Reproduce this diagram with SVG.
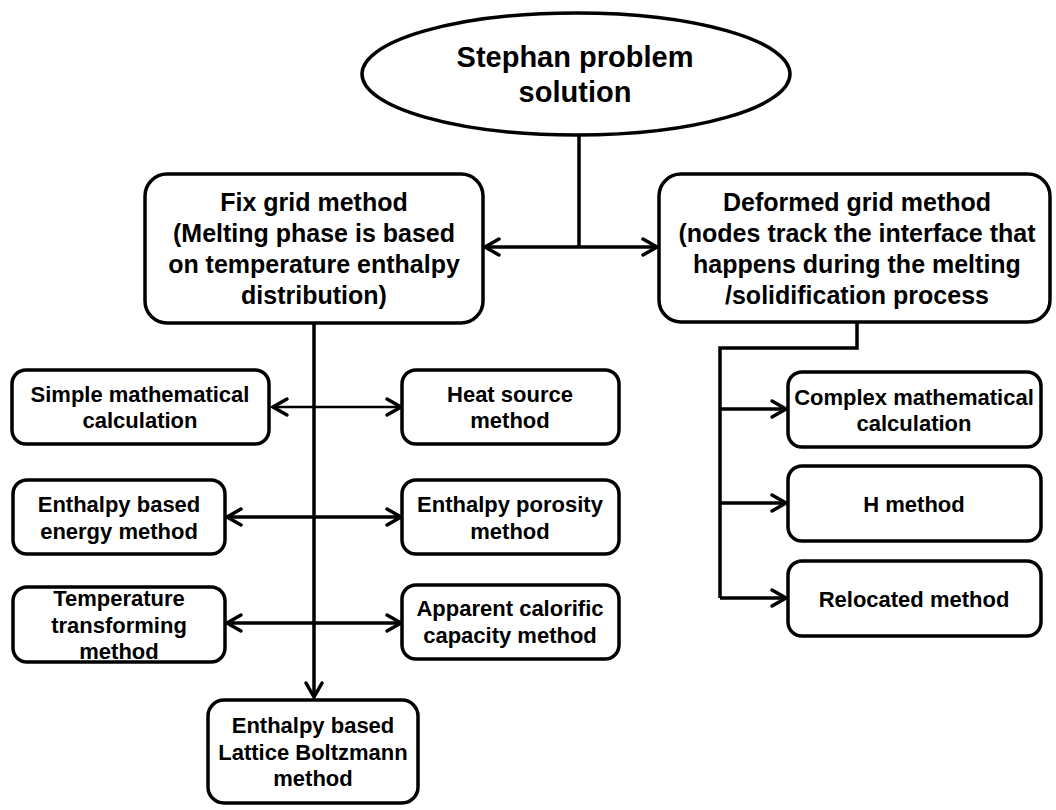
<svg xmlns="http://www.w3.org/2000/svg" width="1056" height="810" viewBox="0 0 1056 810">
<style>
.box{fill:#fff;stroke:#000;stroke-width:3.5}
.t{font-family:"Liberation Sans",Arial,sans-serif;font-weight:bold;fill:#000;text-anchor:middle}
.big{font-size:29px}
.mid{font-size:25px}
.sm{font-size:22px}
.c{fill:none;stroke:#000;stroke-width:3.5}
.c2{fill:none;stroke:#000;stroke-width:2.5}
</style>
<defs>
<marker id="ah" markerUnits="userSpaceOnUse" markerWidth="24" markerHeight="24" refX="16" refY="10" orient="auto-start-reverse" overflow="visible">
<path d="M2,2 L16,10 L2,18" fill="none" stroke="#000" stroke-width="3.5" stroke-linecap="round"/>
</marker>
</defs>
<rect width="1056" height="810" fill="#fff"/>
<g id="connectors">
<path class="c" d="M579,135 V247"/>
<path class="c" d="M485,247 H657" marker-start="url(#ah)" marker-end="url(#ah)"/>
<path class="c" d="M314,323 V697" marker-end="url(#ah)"/>
<path class="c2" d="M273,407 H401" marker-start="url(#ah)" marker-end="url(#ah)"/>
<path class="c" d="M227,517 H401" marker-start="url(#ah)" marker-end="url(#ah)"/>
<path class="c" d="M227,623 H401" marker-start="url(#ah)" marker-end="url(#ah)"/>
<path class="c" d="M857,322 V348 H720 V598"/>
<path class="c" d="M720,409 H786" marker-end="url(#ah)"/>
<path class="c" d="M720,503 H786" marker-end="url(#ah)"/>
<path class="c" d="M720,598 H786" marker-end="url(#ah)"/>
</g>
<g id="root">
<ellipse class="box" cx="576" cy="74" rx="214" ry="61"/>
<text class="t big" x="575" y="67">Stephan problem</text>
<text class="t big" x="575" y="102">solution</text>
</g>
<g id="fix">
<rect class="box" x="145" y="174" width="338" height="149" rx="22"/>
<text class="t mid" x="314" y="211">Fix grid method</text>
<text class="t mid" x="314" y="242">(Melting phase is based</text>
<text class="t mid" x="314" y="273">on temperature enthalpy</text>
<text class="t mid" x="314" y="304">distribution)</text>
</g>
<g id="deformed">
<rect class="box" x="659" y="174" width="391" height="148" rx="22"/>
<text class="t mid" x="857" y="211">Deformed grid method</text>
<text class="t mid" x="857" y="242">(nodes track the interface that</text>
<text class="t mid" x="857" y="273">happens during the melting</text>
<text class="t mid" x="857" y="304">/solidification process</text>
</g>
<g id="simple">
<rect class="box" x="12" y="370" width="257" height="74" rx="14"/>
<text class="t sm" x="140" y="402">Simple mathematical</text>
<text class="t sm" x="140" y="428">calculation</text>
</g>
<g id="heat">
<rect class="box" x="402" y="370" width="217" height="74" rx="14"/>
<text class="t sm" x="510" y="402">Heat source</text>
<text class="t sm" x="510" y="428">method</text>
</g>
<g id="energy">
<rect class="box" x="13" y="480" width="212" height="74" rx="14"/>
<text class="t sm" x="119" y="512">Enthalpy based</text>
<text class="t sm" x="119" y="539">energy method</text>
</g>
<g id="porosity">
<rect class="box" x="402" y="480" width="217" height="74" rx="14"/>
<text class="t sm" x="510" y="512">Enthalpy porosity</text>
<text class="t sm" x="510" y="539">method</text>
</g>
<g id="temperature">
<rect class="box" x="13" y="587" width="212" height="75" rx="14"/>
<text class="t sm" x="119" y="606">Temperature</text>
<text class="t sm" x="119" y="633">transforming</text>
<text class="t sm" x="119" y="659">method</text>
</g>
<g id="apparent">
<rect class="box" x="402" y="585" width="217" height="74" rx="14"/>
<text class="t sm" x="510" y="616">Apparent calorific</text>
<text class="t sm" x="510" y="643">capacity method</text>
</g>
<g id="lattice">
<rect class="box" x="208" y="700" width="210" height="103" rx="16"/>
<text class="t sm" x="313" y="733">Enthalpy based</text>
<text class="t sm" x="313" y="760">Lattice Boltzmann</text>
<text class="t sm" x="313" y="786">method</text>
</g>
<g id="complex">
<rect class="box" x="788" y="372" width="253" height="75" rx="14"/>
<text class="t sm" x="914" y="405">Complex mathematical</text>
<text class="t sm" x="914" y="431">calculation</text>
</g>
<g id="hmethod">
<rect class="box" x="788" y="466" width="253" height="75" rx="14"/>
<text class="t sm" x="914" y="512">H method</text>
</g>
<g id="relocated">
<rect class="box" x="788" y="561" width="253" height="75" rx="14"/>
<text class="t sm" x="914" y="607">Relocated method</text>
</g>
</svg>
